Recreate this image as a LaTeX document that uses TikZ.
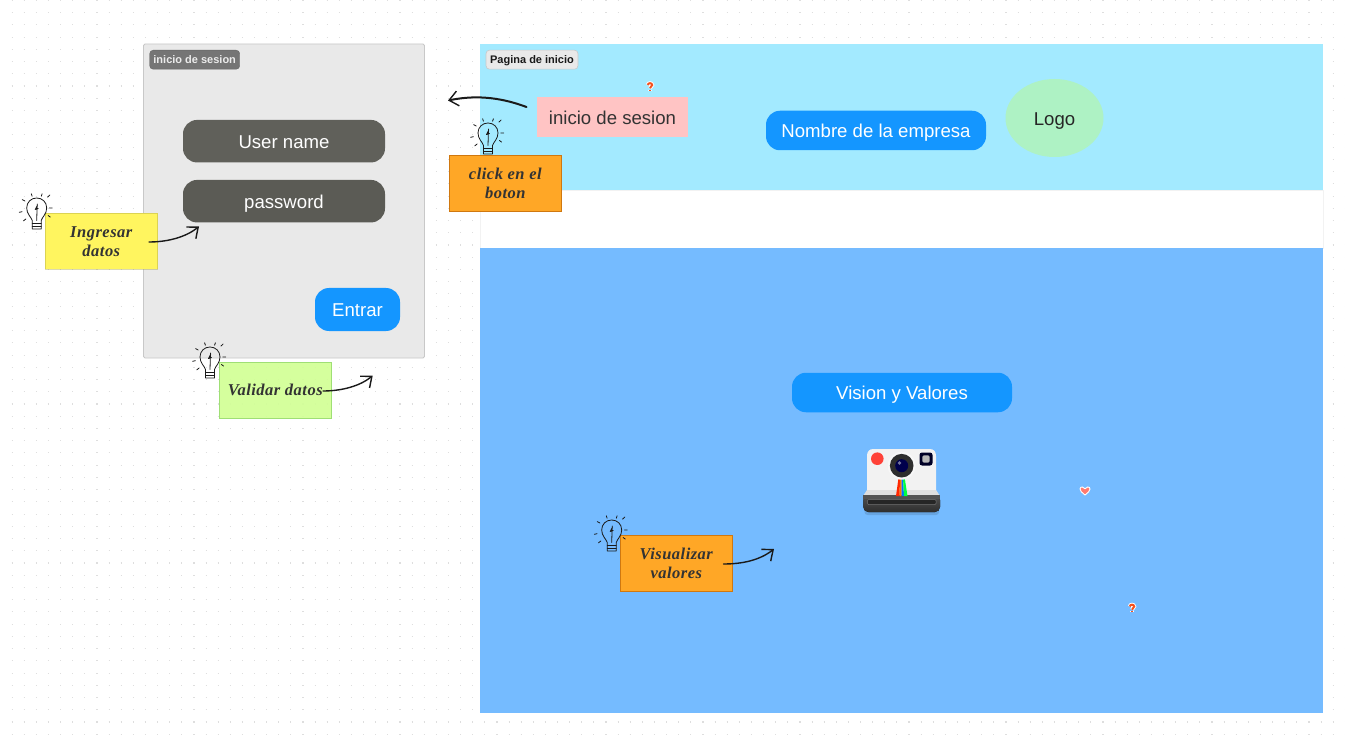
\documentclass[tikz,border=0pt]{standalone}
\usepackage{fontspec}
\usetikzlibrary{arrows.meta,shapes.geometric}
\setmainfont{Liberation Sans}
\newfontfamily\handfont{Liberation Serif}[ItalicFont={Liberation Serif Bold Italic},LetterSpace=3]
\definecolor{dotc}{HTML}{DEDEDE}
\definecolor{framefill}{HTML}{E9E9E9}
\definecolor{frameline}{HTML}{C8C8C8}
\definecolor{tagdark}{HTML}{757575}
\definecolor{topblue}{HTML}{A3EAFF}
\definecolor{lowblue}{HTML}{75BBFF}
\definecolor{btnblue}{HTML}{1496FF}
\definecolor{btngrey}{HTML}{60605A}
\definecolor{pinkbox}{HTML}{FFC4C4}
\definecolor{logogreen}{HTML}{AEF2C4}
\definecolor{stickyorange}{HTML}{FFA726}
\definecolor{stickyyellow}{HTML}{FFF55F}
\definecolor{stickygreen}{HTML}{D2FF96}
\definecolor{inkc}{HTML}{1A1A1A}
\definecolor{emojired}{HTML}{F4511E}
\definecolor{heartc}{HTML}{FF7A70}
\definecolor{camred}{HTML}{FF4238}
\tikzset{
  x=1pt,y=-1pt,
  dotrow/.style={draw=dotc,line width=1.1pt,dash pattern=on 1.1pt off 11.02pt},
  panel/.style={draw=none,inner sep=0pt,outer sep=0pt},
  bigtext/.style={font=\fontsize{18.6}{22}\selectfont,text height=16pt,text depth=1.8pt},
  btn/.style={rectangle,rounded corners=14pt,inner sep=0pt,text=white,bigtext},
  tagbox/.style={rectangle,rounded corners=3.5pt,inner sep=0pt,minimum width=#1,minimum height=19pt,font=\bfseries\fontsize{11}{13}\selectfont,text height=9.5pt,text depth=1.1pt},
  sticky/.style={rectangle,inner sep=0pt,minimum width=112.4pt,minimum height=56.4pt,align=center,text=black!80,font=\handfont\itshape\fontsize{16.5}{19}\selectfont},
  inkarrow/.style={draw=inkc,line width=1.4pt,line cap=round,-{Straight Barb[length=9pt,width=15pt,line width=1.4pt]}},
  bulbline/.style={draw=inkc,line width=.8pt,line cap=round,line join=round},
  bulb/.pic={
    \draw[bulbline] (-4.5,21) -- (-4.5,12.5) .. controls (-5.5,9) and (-10,6) .. (-10,0)
      .. controls (-10,-6) and (-5.5,-10) .. (0,-10)
      .. controls (5.5,-10) and (10,-6) .. (10,0)
      .. controls (10,6) and (5.5,9) .. (4.5,12.5) -- (4.5,21) -- (-4.5,21);
    \draw[bulbline] (-4.5,15.5) -- (4.5,15.5) (-4.5,18) -- (4.5,18);
    \draw[bulbline] (0,12.5) -- (0.5,-4) (0.8,-3) -- (-1.5,1.5) -- (1.5,0.5);
    \draw[bulbline] (-4.6,-11.8) -- (-5.4,-14.2) (4.6,-11.8) -- (5.4,-14.2) (10.8,-10.8) -- (13.2,-13)
      (12.7,0) -- (15.6,0) (11.4,7.5) -- (13.6,9.1) (-14.6,3.7) -- (-17.4,4.3) (-10.8,11) -- (-13.2,12.8) (-11.8,-7) -- (-14.4,-8.4);
  },
  qmark/.pic={
    \foreach \c/\w in {white/3.8,emojired/2}{
      \draw[draw=\c,line width=\w pt] (-2.2,-2) .. controls (-2.2,-4.4) and (2.2,-4.4) .. (2.2,-2) .. controls (2.2,-0.5) and (0,-0.5) .. (0,1.2);
      \draw[draw=\c,line width=\w pt] (0,2.8) -- (0,3.8);
    }
  },
  heart/.pic={
    \fill[heartc,draw=white,line width=.9pt] (0,4.5) .. controls (-3,2) and (-5,0.5) .. (-5,-1.5) .. controls (-5,-4.2) and (-1,-4.2) .. (0,-1.8) .. controls (1,-4.2) and (5,-4.2) .. (5,-1.5) .. controls (5,0.5) and (3,2) .. (0,4.5) -- cycle;
  }
}
\begin{document}
\begin{tikzpicture}
\useasboundingbox (0,0) rectangle (1345,746);
\fill[white] (0,0) rectangle (1345,746);
% canvas dots
\foreach \j in {0,...,60}{
  \draw[dotrow] (11.6,{\j*12.23+0.4}) -- (1345,{\j*12.23+0.4});
}

% page panels
\node[panel,fill=white,draw=black!5,line width=.5pt,minimum width=843pt,minimum height=58pt] (band) at (901.5,219) {};
\node[panel,fill=topblue,minimum width=843pt,minimum height=146pt] (top) at (901.5,117) {};
\node[panel,fill=lowblue,minimum width=843pt,minimum height=465pt] (low) at (901.5,480.5) {};

% login frame
\node[rectangle,rounded corners=1.5pt,fill=framefill,draw=frameline,line width=.8pt,inner sep=0pt,minimum width=281pt,minimum height=314pt] (frame) at (284,201) {};
\node[tagbox=90pt,fill=tagdark,draw=black!60,line width=.4pt,text=black!8] (tag1) at (194.7,59.7) {inicio de sesion};
\node[btn,fill=btngrey,minimum width=202pt,minimum height=42.5pt] (user) at (284,141.2) {User name};
\node[btn,fill=btngrey!95!black,minimum width=202pt,minimum height=42.5pt] (pass) at (284,201.2) {password};
\node[btn,fill=btnblue,minimum width=85pt,minimum height=43pt] (entrar) at (357.5,309.5) {Entrar};

% home page contents
\node[tagbox=92pt,fill=framefill,draw=frameline,line width=.6pt,text=black!90] (tag2) at (532,59.7) {Pagina de inicio};
\node[rectangle,inner sep=0pt,fill=pinkbox,text=black!80,minimum width=151pt,minimum height=40pt,bigtext] (isbox) at (612.5,117) {inicio de sesion};
\node[btn,fill=btnblue,minimum width=220pt,minimum height=39.5pt] (nombre) at (876,130.5) {Nombre de la empresa};
\node[ellipse,inner sep=0pt,fill=logogreen,text=black!85,minimum width=98pt,minimum height=78pt,bigtext] (logo) at (1054.5,118) {Logo};
\node[btn,fill=btnblue,minimum width=220pt,minimum height=39.5pt] (vision) at (902,392.5) {Vision y Valores};

% stickies
\node[sticky,fill=stickyorange,draw=orange!70!black,draw opacity=.6,line width=.6pt] (s1) at (505.3,183.5) {click en el\\boton};
\node[sticky,fill=stickyyellow,draw=yellow!60!black,draw opacity=.4,line width=.6pt] (s2) at (101.3,241.3) {Ingresar\\datos};
\node[sticky,fill=stickygreen,fill opacity=.93,text opacity=1,draw=green!50!black,draw opacity=.25,line width=.6pt] (s3) at (275.3,390.3) {Validar datos};
\node[sticky,fill=stickyorange,draw=orange!70!black,draw opacity=.6,line width=.6pt] (s4) at (676.3,563.3) {Visualizar\\valores};

% bulbs
\pic at (488,133) {bulb};
\pic at (36.7,208) {bulb};
\pic at (210,357) {bulb};
\pic at (611.7,530) {bulb};

% arrows
\coordinate (a1s) at (526.5,107);
\coordinate (a1e) at (448,100.5);
\draw[inkarrow,line width=2pt] (a1s) .. controls (505,99) and (480,94) .. (a1e);
\coordinate (a2s) at (149,242);
\coordinate (a2e) at (199,226.5);
\draw[inkarrow] (a2s) .. controls (168,242) and (186,237) .. (a2e);
\coordinate (a3s) at (323,391);
\coordinate (a3e) at (372.7,375.7);
\draw[inkarrow] (a3s) .. controls (342,391) and (360,386) .. (a3e);
\coordinate (a4s) at (723.5,564);
\coordinate (a4e) at (774,549);
\draw[inkarrow] (a4s) .. controls (743,564) and (760,560) .. (a4e);

% small emoji marks
\pic at (650,87) {qmark};
\pic at (1132,608.5) {qmark};
\pic at (1085,490.5) {heart};

% camera
\fill[black!60!lowblue,opacity=.2,rounded corners=3pt] (864.5,508) rectangle (939,515);
\fill[black!5] (873,449) -- (930,449) .. controls (934,449) and (936,452) .. (936,456) -- (936,492) -- (867,492) -- (867,456) .. controls (867,452) and (869,449) .. (873,449) -- cycle;
\fill[black!13] (867,490) -- (936,490) -- (940,496) -- (863,496) -- cycle;
\fill[top color=black!68,bottom color=black!82,rounded corners=5pt] (863.3,495) rectangle (940,512);
\fill[black!68] (863.3,495) rectangle (940,499);
\fill[black!85,draw=black!55,line width=.5pt,rounded corners=1pt] (867.5,499.5) rectangle (936,504.5);
% rainbow
\fill[red!70!orange] (898.5,478) -- (900,478) -- (899.5,496) -- (896,496) -- cycle;
\fill[orange!90!red] (900,478) -- (901.5,478) -- (901.5,496) -- (899.5,496) -- cycle;
\fill[blue!55!cyan] (901.5,478) -- (903,478) -- (904,496) -- (901.5,496) -- cycle;
\fill[green!75!cyan] (903,478) -- (904.7,478) -- (907.5,496) -- (904,496) -- cycle;
% lens
\fill[black!3] (901.7,465.7) circle (14);
\fill[black!82] (901.7,465.7) circle (11.8);
\fill[blue!30!black] (901.7,465.7) circle (6.5);
\fill[white,opacity=.45] (899.5,463) circle (1.8);
\fill[camred] (877.3,458.7) circle (6.3);
\fill[blue!15!black,rounded corners=2.5pt] (919.5,452.5) rectangle (932.5,465.5);
\fill[black!28,rounded corners=1.5pt] (922.3,455.3) rectangle (929.7,462.7);
\end{tikzpicture}
\end{document}
